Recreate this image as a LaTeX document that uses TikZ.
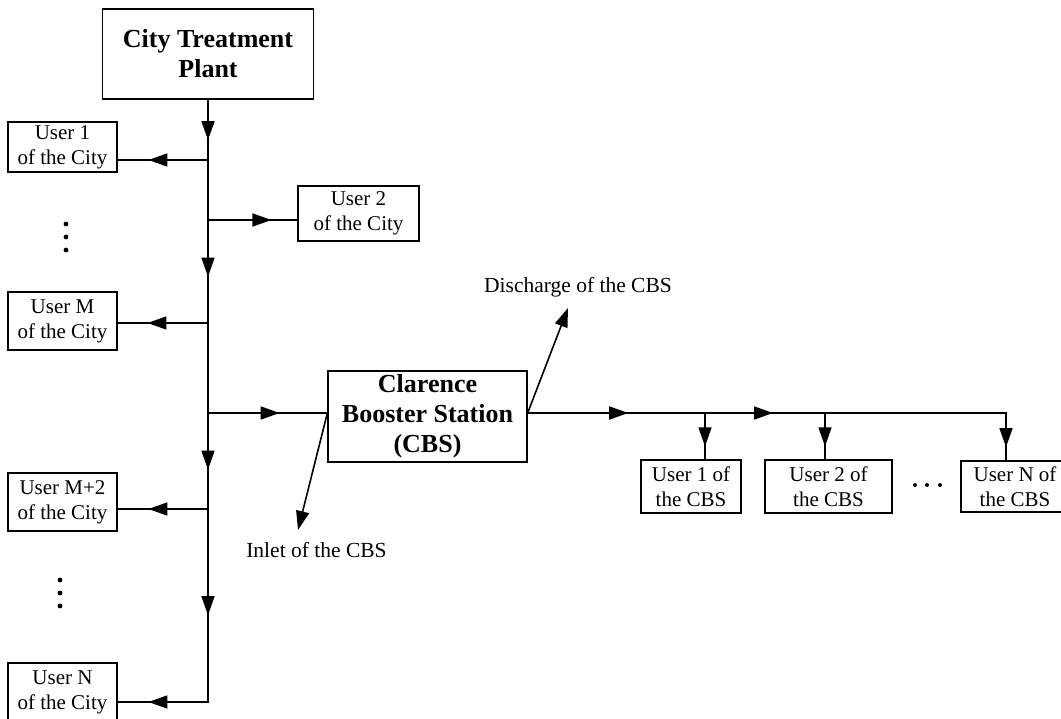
\documentclass[tikz,border=0pt]{standalone}
\usepackage{fontspec}
\setmainfont{Liberation Serif}
\usetikzlibrary{arrows.meta,decorations.markings}

\tikzset{
  box/.style={draw, line width=1.3pt, align=center, inner sep=0pt,
    font=\fontsize{21}{25}\selectfont},
  mainbox/.style={box, font=\bfseries\fontsize{26}{30}\selectfont},
  pipe/.style={line width=1.6pt, line cap=rect},
  flowmark/.style={pipe, postaction={decorate},
    decoration={markings, mark=at position #1 with {\arrow{Triangle[length=19pt,width=13pt]}}}},
  tipend/.style={pipe, line cap=butt, -{Triangle[length=19pt,width=13pt]}},
  tagtext/.style={font=\fontsize{21.5}{25}\selectfont, inner sep=0pt, anchor=base},
  dot/.style={circle, fill, inner sep=0pt, minimum size=4.8pt}
}

\begin{document}
\begin{tikzpicture}[x=1pt, y=-1pt]
\useasboundingbox (0,0) rectangle (1061,719);

% boxes
\node[mainbox, minimum width=211pt, minimum height=90pt] (plant) at (208,54) {City Treatment\\Plant};
\node[box, minimum width=109pt, minimum height=50pt] (u1) at (62.5,147) {User 1\\of the City};
\node[box, minimum width=121pt, minimum height=55pt] (u2) at (358.5,213.5) {User 2\\of the City};
\node[box, minimum width=109pt, minimum height=58pt] (uM) at (62.5,321) {User M\\of the City};
\node[box, minimum width=109pt, minimum height=58pt] (uM2) at (62.5,502) {User M+2\\of the City};
\node[box, minimum width=109pt, minimum height=58pt] (uN) at (62.5,692) {User N\\of the City};
\node[mainbox, minimum width=199pt, minimum height=91pt] (cbs) at (427.5,416.5) {Clarence\\Booster Station\\(CBS)};
\node[box, minimum width=100pt, minimum height=53pt] (cu1) at (691,486.5) {User 1 of\\the CBS};
\node[box, minimum width=127pt, minimum height=53pt] (cu2) at (828.5,486.5) {User 2 of\\the CBS};
\node[box, minimum width=108pt, minimum height=51pt] (cuN) at (1015,486.5) {User N of\\the CBS};

% labels
\node[tagtext] (dis) at (578,293) {Discharge of the CBS};
\node[tagtext] (inl) at (316.5,557) {Inlet of the CBS};

% junctions on the trunk main
\coordinate (j1) at (208,160);
\coordinate (j2) at (208,220);
\coordinate (jM) at (208,323);
\coordinate (jC) at (208,413);
\coordinate (jM2) at (208,509);
\coordinate (jN) at (208,702);
\coordinate (cin) at (cbs.west |- jC);
\coordinate (cout) at (cbs.east |- jC);
\coordinate (k1) at (705,413);
\coordinate (k2) at (825,413);
\coordinate (k3) at (1006,413);
\coordinate (intip) at (298,530);
\coordinate (distip) at (568,308);

% city trunk
\draw[flowmark=0.67] (plant.south) -- (j1);
\draw[pipe] (j1) -- (j2);
\draw[flowmark=0.55] (j2) -- (jM);
\draw[pipe] (jM) -- (jC);
\draw[flowmark=0.59] (jC) -- (jM2);
\draw[flowmark=0.55] (jM2) -- (jN);

% city branches
\draw[flowmark=0.66] (j1) -- (j1 -| u1.east);
\draw[flowmark=0.71] (j2) -- (j2 -| u2.west);
\draw[flowmark=0.67] (jM) -- (jM -| uM.east);
\draw[flowmark=0.60] (jC) -- (cin);
\draw[flowmark=0.66] (jM2) -- (jM2 -| uM2.east);
\draw[flowmark=0.66] (jN) -- (jN -| uN.east);

% inlet and discharge
\draw[tipend] (cin) -- (intip);
\draw[tipend] (cout) -- (distip);

% booster station line
\draw[flowmark=0.567] (cout) -- (k1);
\draw[flowmark=0.567] (k1) -- (k2);
\draw[pipe] (k2) -- (k3);
\draw[flowmark=0.72] (k1) -- (k1 |- cu1.north);
\draw[flowmark=0.72] (k2) -- (k2 |- cu2.north);
\draw[flowmark=0.72] (k3) -- (k3 |- cuN.north);

% ellipses
\node[dot] (da1) at (66,224) {};
\node[dot] (da2) at (66,237) {};
\node[dot] (da3) at (66,250) {};
\node[dot] (db1) at (60,580) {};
\node[dot] (db2) at (60,593) {};
\node[dot] (db3) at (60,606) {};
\node[dot, minimum size=4pt] (dc1) at (915,485) {};
\node[dot, minimum size=4pt] (dc2) at (927,485) {};
\node[dot, minimum size=4pt] (dc3) at (940,485) {};
\end{tikzpicture}
\end{document}
